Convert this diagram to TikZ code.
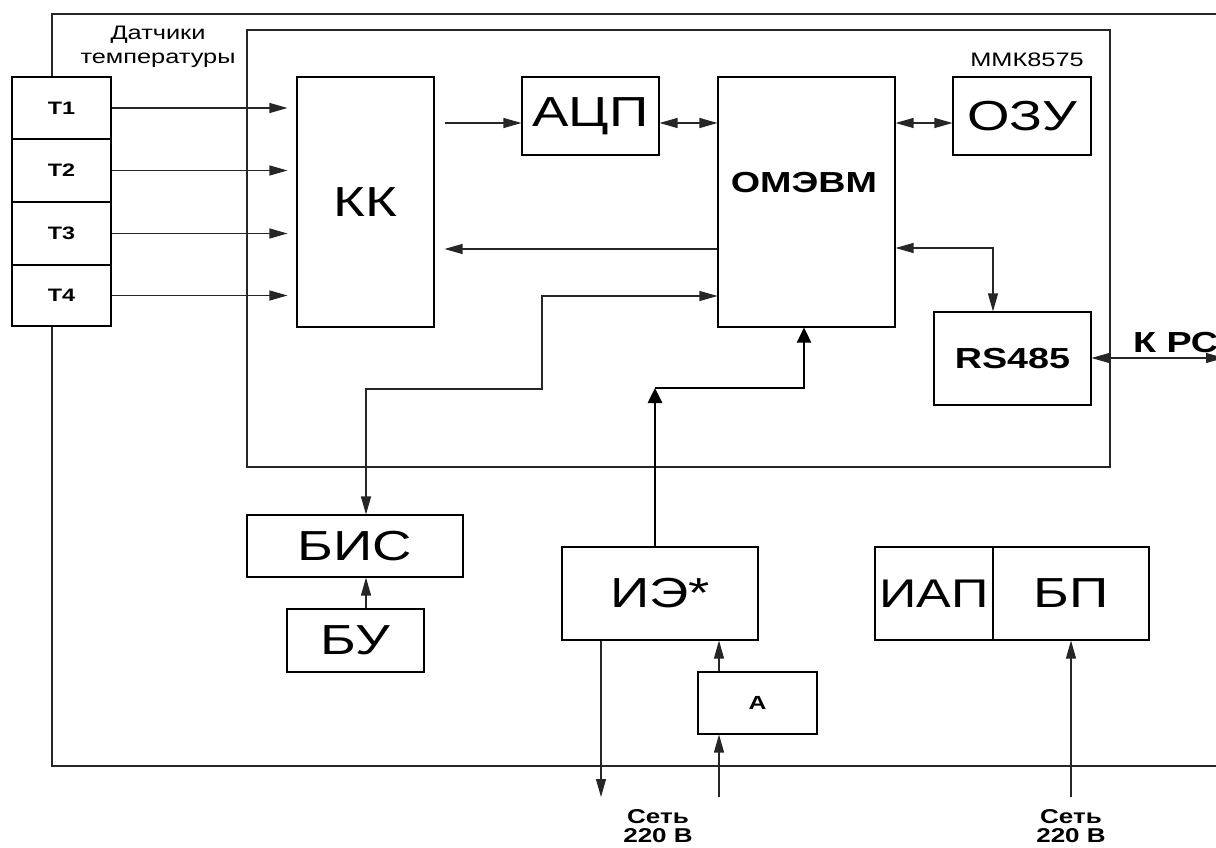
\documentclass[tikz,border=0pt]{standalone}
\usepackage{fontspec}
\setmainfont[FakeStretch=1.3]{Liberation Sans}
\usetikzlibrary{arrows.meta,calc}
\tikzset{
  box/.style={draw=black, line width=1.1pt, fill=white, inner sep=0pt},
  frm/.style={draw=black!85, line width=1.1pt},
  arr/.style={draw=black!85, line width=1.2pt, -{Triangle[length=18pt,width=10pt]}},
  darr/.style={draw=black!85, line width=1.2pt, {Triangle[length=18pt,width=10pt]}-{Triangle[length=18pt,width=10pt]}},
  tarr/.style={draw=black, line width=2.6pt, -{Triangle[length=15pt,width=14pt]}},
  bigf/.style={font=\fontsize{42}{48}\selectfont},
  midb/.style={font=\fontsize{29}{34}\selectfont\bfseries},
  smb/.style={font=\fontsize{18}{20}\selectfont\bfseries},
  lbl/.style={font=\fontsize{19.5}{24}\selectfont, align=center, inner sep=0pt},
  net/.style={font=\fontsize{20}{19}\selectfont\bfseries, align=center, inner sep=0pt},
}
\begin{document}
\begin{tikzpicture}[x=1pt,y=-1pt]
\useasboundingbox (0,0) rectangle (1216,848);
\clip (0,0) rectangle (1216,848);
\fill[white] (0,0) rectangle (1216,848);
% outer frame (open to the right, clipped)
\draw[frm] (1230,14) -- (52,14) -- (52,766) -- (1230,766);
% inner MMK8575 frame
\draw[frm] (247,30) rectangle (1110,467);
\node[lbl] (mmk) at (1027,60) {ММК8575};
\node[lbl] (dat) at (158,47) {Датчики\\температуры};

% sensors
\node[box, smb, minimum width=99pt, minimum height=62pt] (t1) at (61.5,108) {T1};
\node[box, smb, minimum width=99pt, minimum height=63pt] (t2) at (61.5,170.5) {T2};
\node[box, smb, minimum width=99pt, minimum height=63pt] (t3) at (61.5,233.5) {T3};
\node[box, smb, minimum width=99pt, minimum height=61pt] (t4) at (61.5,295.5) {T4};

% main blocks
\node[box, bigf, minimum width=137pt, minimum height=250pt] (kk) at (365.5,202) {КК};
\node[box, bigf, minimum width=137pt, minimum height=78pt] (adc) at (590.5,116) {АЦП};
\node[box, minimum width=177pt, minimum height=250pt] (cpu) at (806.5,202) {};
\node[midb, inner sep=0pt] (cpulbl) at (804,183) {ОМЭВМ};
\node[box, bigf, minimum width=138pt, minimum height=78pt] (ram) at (1022,116) {ОЗУ};
\node[box, midb, minimum width=157pt, minimum height=93pt] (rs) at (1012.5,358.5) {RS485};
\node[midb, inner sep=0pt, anchor=west] (kpc) at (1133,343) {К РС};

\node[box, bigf, minimum width=216pt, minimum height=62pt] (bis) at (355,546) {БИС};
\node[box, bigf, minimum width=137pt, minimum height=63pt] (bu) at (355.5,640.5) {БУ};
\node[box, bigf, minimum width=196pt, minimum height=93pt] (ie) at (660,593.5) {ИЭ*};
\node[box, font=\fontsize{19}{21}\selectfont\bfseries, minimum width=119pt, minimum height=62pt] (a) at (757.5,703) {А};
\node[box, font=\fontsize{40}{48}\selectfont, minimum width=118pt, minimum height=93pt] (iap) at (934,593.5) {ИАП};
\node[box, bigf, minimum width=156pt, minimum height=93pt] (bp) at (1071,593.5) {БП};

\node[net] (net1) at (658,826) {Сеть\\220 В};
\node[net] (net2) at (1071,826) {Сеть\\220 В};

% helper coordinates
\coordinate (r1) at (0,123);
\coordinate (r2) at (0,249);
\coordinate (r3) at (0,296);
\coordinate (b1) at (542,389);
\coordinate (b2) at (366,389);
\coordinate (c1) at (993,248);
\coordinate (kend) at (1224,358);
\coordinate (e1) at (655,388);
\coordinate (e2) at (804,388);
\coordinate (ax) at (719,0);
\coordinate (dx) at (601,0);
\coordinate (s1) at (719,797);
\coordinate (s2) at (601,797);
\coordinate (s3) at (1071,797);
\coordinate (ux) at (366,0);

% sensor arrows
\foreach \t in {t1,t2,t3,t4}
  \draw[arr, shorten >=9pt] (\t.east) -- (\t.east -| kk.west);

% KK -> ADC
\draw[arr, shorten <=10pt] (kk.east |- r1) -- (adc.west |- r1);
\draw[darr] (adc.east |- r1) -- (cpu.west |- r1);
\draw[darr] (cpu.east |- r1) -- (ram.west |- r1);
% CPU -> KK
\draw[arr, shorten >=10pt] (cpu.west |- r2) -- (kk.east |- r2);
% CPU <-> BIS
\draw[darr] (cpu.west |- r3) -| (b1) -- (b2) -- (b2 |- bis.north);
% CPU <-> RS485
\draw[darr] (cpu.east |- c1) -- (c1) -- (c1 |- rs.north);
% RS485 <-> PC
\draw[darr] (rs.east |- kend) -- (kend);
% IE -> CPU
\draw[tarr] (ie.north -| e1) -- (e1);
\draw[tarr] (e1) -- (e2) -- (e2 |- cpu.south);
% A -> IE, net -> A
\draw[arr] (a.north -| ax) -- (ie.south -| ax);
\draw[arr] (s1) -- (s1 |- a.south);
% IE -> down
\draw[arr] (ie.south -| dx) -- (s2);
% net -> BP
\draw[arr] (s3) -- (s3 |- bp.south);
% BU -> BIS
\draw[arr] (bu.north -| ux) -- (bis.south -| ux);
\end{tikzpicture}
\end{document}
